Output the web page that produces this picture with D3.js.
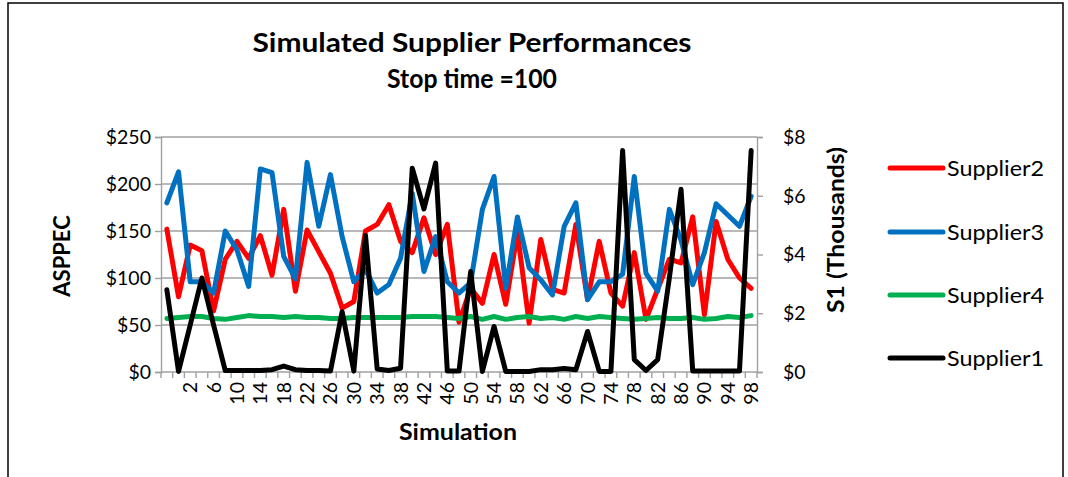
<!DOCTYPE html>
<html>
<head>
<meta charset="utf-8">
<script src="https://cdn.jsdelivr.net/npm/d3@7"></script>
<style>
  html, body { margin: 0; padding: 0; background: #fff; }
  svg { display: block; font-family: Lato, "Open Sans", sans-serif; }
</style>
</head>
<body>
<div id="chart"></div>
<script>
// Catégories (simulation) - la première n'a pas d'étiquette
const categories = ["", "0", "2", "4", "6", "8", "10", "12", "14", "16", "18", "20", "22", "24", "26", "28",
  "30", "32", "34", "36", "38", "40", "42", "44", "46", "48", "50", "52", "54", "56", "58", "60",
  "62", "64", "66", "68", "70", "72", "74", "76", "78", "80", "82", "84", "86", "88", "90", "92",
  "94", "96", "98"];

// Étiquettes affichées sur l'axe X
const xTickLabels = ["2", "6", "10", "14", "18", "22", "26", "30", "34", "38", "42", "46", "50",
  "54", "58", "62", "66", "70", "74", "78", "82", "86", "90", "94", "98"];

// Axe de gauche ($)
const supplier2 = [152, 80, 135, 129, 65, 120, 139, 121, 145, 103, 173, 86, 151, 128, 105, 68,
  75, 150, 157, 178, 139, 127, 164, 125, 157, 53, 89, 73, 125, 72, 148, 52,
  141, 88, 84, 157, 77, 139, 84, 70, 127, 56, 88, 120, 116, 165, 61, 160,
  120, 100, 89];

const supplier3 = [180, 213, 96, 96, 84, 150, 130, 91, 216, 212, 123, 99, 223, 155, 210, 144,
  96, 109, 84, 93, 121, 190, 107, 144, 96, 84, 95, 173, 208, 89, 165, 111,
  98, 82, 155, 180, 77, 96, 96, 104, 208, 105, 86, 173, 140, 93, 127, 179,
  167, 155, 187];

const supplier4 = [57, 58, 59, 59, 57, 56, 58, 60, 59, 59, 58, 59, 58, 58, 57, 57,
  58, 58, 58, 58, 58, 59, 59, 59, 58, 57, 59, 56, 59, 56, 58, 59,
  57, 58, 56, 59, 57, 59, 58, 57, 56, 57, 58, 57, 57, 58, 56, 57,
  59, 58, 60];

// Axe de droite (milliers)
const supplier1 = [2.8, 0.02, 1.6, 3.2, 1.6, 0.05, 0.05, 0.05, 0.05, 0.08, 0.2, 0.08, 0.05, 0.05, 0.03, 2.05,
  0.03, 4.65, 0.1, 0.05, 0.13, 6.94, 5.55, 7.11, 0.03, 0.03, 3.42, 0.02, 1.55, 0.02, 0.02, 0.02,
  0.08, 0.08, 0.12, 0.08, 1.38, 0.02, 0.02, 7.54, 0.42, 0.05, 0.42, 3.2, 6.22, 0.03, 0.03, 0.03,
  0.03, 0.03, 7.54];

const leftTicks = [0, 50, 100, 150, 200, 250];
const rightTicks = [0, 2, 4, 6, 8];

const series = [
  { name: "Supplier2", values: supplier2, color: "#FF0000", axis: "left" },
  { name: "Supplier3", values: supplier3, color: "#0070C0", axis: "left" },
  { name: "Supplier4", values: supplier4, color: "#00B050", axis: "left" },
  { name: "Supplier1", values: supplier1, color: "#000000", axis: "right" }
];

const W = 1068, H = 477;
const plot = { left: 161, right: 757, top: 137, bottom: 372 };
const gridColor = "#A0A0A0";

const svg = d3.select("#chart").append("svg")
  .attr("width", W).attr("height", H);

// Cadre du graphique
svg.append("path")
  .attr("d", `M8,${H} L8,3 L1063,3 L1063,${H}`)
  .attr("fill", "none").attr("stroke", "#000").attr("stroke-width", 1.5);

// Échelles
const x = d3.scaleBand().domain(categories.map((c, i) => i)).range([plot.left, plot.right]);
const yL = d3.scaleLinear().domain([0, 250]).range([plot.bottom, plot.top]);
const yR = d3.scaleLinear().domain([0, 8]).range([plot.bottom, plot.top]);
const cx = i => x(i) + x.bandwidth() / 2;

// Quadrillage horizontal
svg.append("g").selectAll("line").data(leftTicks.slice(1)).enter().append("line")
  .attr("x1", plot.left).attr("x2", plot.right)
  .attr("y1", d => yL(d)).attr("y2", d => yL(d))
  .attr("stroke", gridColor).attr("stroke-width", 1.4);

// Axe gauche
const gL = svg.append("g").attr("transform", `translate(${plot.left},0)`)
  .call(d3.axisLeft(yL).tickValues(leftTicks).tickFormat(d => "$" + d).tickSize(6).tickPadding(4));
// Axe droit
const gR = svg.append("g").attr("transform", `translate(${plot.right},0)`)
  .call(d3.axisRight(yR).tickValues(rightTicks).tickFormat(d => "$" + d).tickSize(6).tickPadding(20));
[gL, gR].forEach(g => {
  g.select(".domain").attr("stroke", gridColor).attr("stroke-width", 1.4);
  g.selectAll(".tick line").attr("stroke", gridColor).attr("stroke-width", 1.4);
  g.selectAll(".tick text").attr("font-family", "Lato, sans-serif").attr("font-size", 19.5).attr("fill", "#000");
});

// Axe X : ligne, graduations entre catégories, étiquettes
const gX = svg.append("g");
gX.append("line")
  .attr("x1", plot.left).attr("x2", plot.right)
  .attr("y1", plot.bottom).attr("y2", plot.bottom)
  .attr("stroke", gridColor).attr("stroke-width", 1.4);
const bounds = categories.map((c, i) => x(i)).concat([x(categories.length - 1) + x.bandwidth()]);
gX.selectAll("line.tk").data(bounds).enter().append("line").attr("class", "tk")
  .attr("x1", d => d).attr("x2", d => d)
  .attr("y1", plot.bottom).attr("y2", plot.bottom + 6)
  .attr("stroke", gridColor).attr("stroke-width", 1.4);
gX.selectAll("text").data(xTickLabels).enter().append("text")
  .attr("transform", d => `translate(${cx(categories.indexOf(d))},${plot.bottom + 10}) rotate(-90)`)
  .attr("text-anchor", "end").attr("dy", "0.36em")
  .attr("font-size", 19.5).text(d => d);

// Courbes
const line = (ys) => d3.line().x((d, i) => cx(i)).y(d => ys(d));
series.forEach(s => {
  svg.append("path")
    .datum(s.values)
    .attr("d", line(s.axis === "left" ? yL : yR))
    .attr("fill", "none").attr("stroke", s.color)
    .attr("stroke-width", 5).attr("stroke-linejoin", "round").attr("stroke-linecap", "round");
});

// Titres
svg.append("text").attr("x", 472).attr("y", 52).attr("text-anchor", "middle")
  .attr("font-size", 27).attr("font-weight", "bold")
  .attr("textLength", 439).attr("lengthAdjust", "spacingAndGlyphs")
  .text("Simulated Supplier Performances");
svg.append("text").attr("x", 472).attr("y", 88).attr("text-anchor", "middle")
  .attr("font-size", 26).attr("font-weight", "bold")
  .attr("textLength", 170).attr("lengthAdjust", "spacingAndGlyphs")
  .text("Stop time =100");

svg.append("text").attr("transform", "translate(70,256) rotate(-90)")
  .attr("text-anchor", "middle").attr("font-size", 22).attr("font-weight", "bold").text("ASPPEC");
svg.append("text").attr("transform", "translate(844,230) rotate(-90)")
  .attr("text-anchor", "middle").attr("font-size", 22).attr("font-weight", "bold")
  .attr("textLength", 166).attr("lengthAdjust", "spacingAndGlyphs").text("S1 (Thousands)");
svg.append("text").attr("x", 458).attr("y", 440).attr("text-anchor", "middle")
  .attr("font-size", 23).attr("font-weight", "bold")
  .attr("textLength", 118).attr("lengthAdjust", "spacingAndGlyphs").text("Simulation");

// Légende
const legendY = [168, 232, 295, 358];
const lg = svg.append("g").selectAll("g").data(series).enter().append("g")
  .attr("transform", (d, i) => `translate(890,${legendY[i]})`);
lg.append("line").attr("x1", 0).attr("x2", 53)
  .attr("stroke", d => d.color).attr("stroke-width", 5).attr("stroke-linecap", "round");
lg.append("text").attr("x", 57).attr("dy", "0.36em").attr("font-size", 22)
  .attr("textLength", 97).attr("lengthAdjust", "spacingAndGlyphs").text(d => d.name);
</script>
</body>
</html>
